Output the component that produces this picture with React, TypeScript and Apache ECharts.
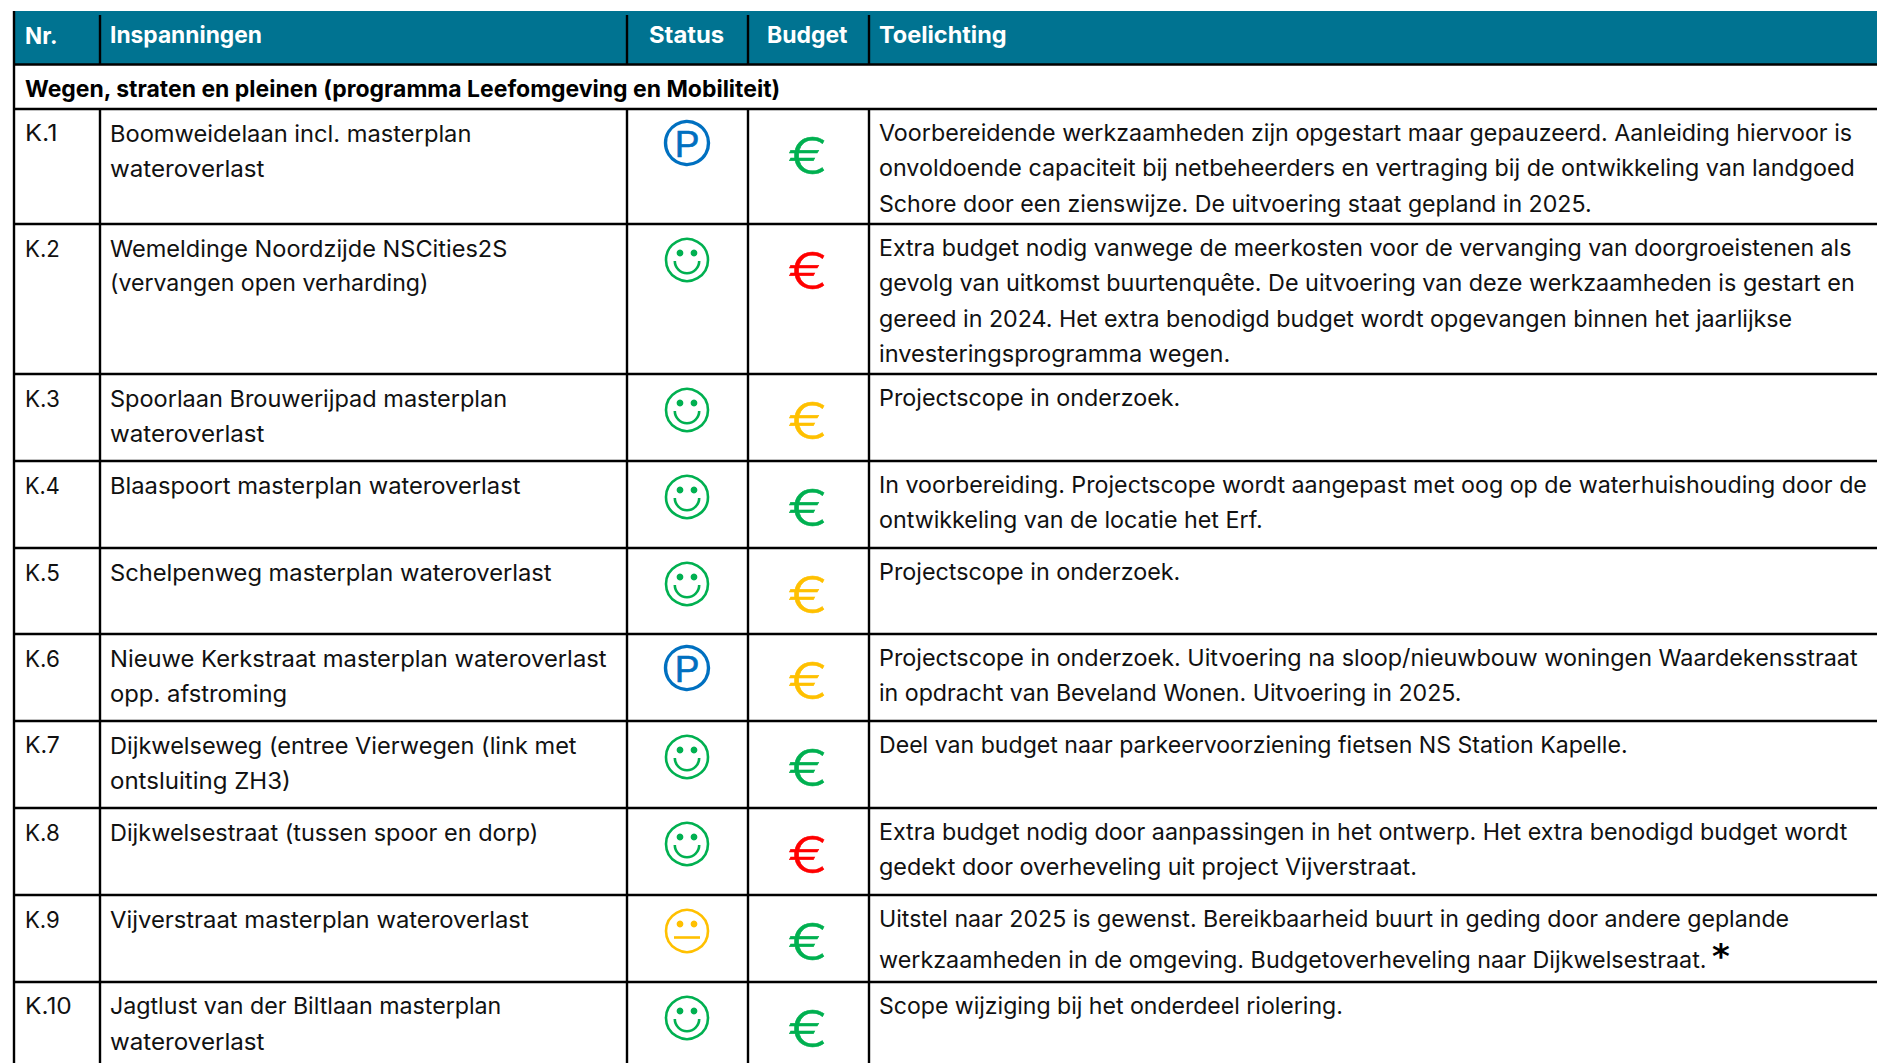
import React, { useEffect, useRef } from "react";
import * as echarts from "echarts";

const columns = ["Nr.", "Inspanningen", "Status", "Budget", "Toelichting"];
const groupTitle = "Wegen, straten en pleinen (programma Leefomgeving en Mobiliteit)";
const numbers = ["K.1", "K.2", "K.3", "K.4", "K.5", "K.6", "K.7", "K.8", "K.9", "K.10"];
const names = [
  ["Boomweidelaan incl. masterplan", "wateroverlast"],
  ["Wemeldinge Noordzijde NSCities2S", "(vervangen open verharding)"],
  ["Spoorlaan Brouwerijpad masterplan", "wateroverlast"],
  ["Blaaspoort masterplan wateroverlast"],
  ["Schelpenweg masterplan wateroverlast"],
  ["Nieuwe Kerkstraat masterplan wateroverlast", "opp. afstroming"],
  ["Dijkwelseweg (entree Vierwegen (link met", "ontsluiting ZH3)"],
  ["Dijkwelsestraat (tussen spoor en dorp)"],
  ["Vijverstraat masterplan wateroverlast"],
  ["Jagtlust van der Biltlaan masterplan", "wateroverlast"],
];
const statuses = ["P", "happy", "happy", "happy", "happy", "P", "happy", "happy", "neutral", "happy"];
const budgets = ["green", "red", "orange", "green", "orange", "orange", "green", "red", "green", "green"];
const notes = [
  ["Voorbereidende werkzaamheden zijn opgestart maar gepauzeerd. Aanleiding hiervoor is", "onvoldoende capaciteit bij netbeheerders en vertraging bij de ontwikkeling van landgoed", "Schore door een zienswijze. De uitvoering staat gepland in 2025."],
  ["Extra budget nodig vanwege de meerkosten voor de vervanging van doorgroeistenen als", "gevolg van uitkomst buurtenquête. De uitvoering van deze werkzaamheden is gestart en", "gereed in 2024. Het extra benodigd budget wordt opgevangen binnen het jaarlijkse", "investeringsprogramma wegen."],
  ["Projectscope in onderzoek."],
  ["In voorbereiding. Projectscope wordt aangepast met oog op de waterhuishouding door de", "ontwikkeling van de locatie het Erf."],
  ["Projectscope in onderzoek."],
  ["Projectscope in onderzoek. Uitvoering na sloop/nieuwbouw woningen Waardekensstraat", "in opdracht van Beveland Wonen. Uitvoering in 2025."],
  ["Deel van budget naar parkeervoorziening fietsen NS Station Kapelle."],
  ["Extra budget nodig door aanpassingen in het ontwerp. Het extra benodigd budget wordt", "gedekt door overheveling uit project Vijverstraat."],
  ["Uitstel naar 2025 is gewenst. Bereikbaarheid buurt in geding door andere geplande", "werkzaamheden in de omgeving. Budgetoverheveling naar Dijkwelsestraat."],
  ["Scope wijziging bij het onderdeel riolering."],
];
// Layout: right ends of each text line, in full-size page pixels
const SHRINK = 1877 / 1568;
const headerEnds = [48, 219, 605, 708, 841].map((v) => v * SHRINK);
const numberEnds = [48, 50, 50, 50, 50, 50, 50, 50, 50, 60].map((v) => v * SHRINK);
const nameEnds = [[394, 221], [424, 358], [424, 221], [435], [461], [507, 240], [482, 243], [450], [442], [419, 221]].map((r) => r.map((v) => v * SHRINK));
const noteEnds = [[1548, 1550, 1330], [1547, 1550, 1498, 1028], [986], [1560, 1055], [986], [1552, 1221], [1360], [1544, 1184], [1495, 1426], [1122]].map((r) => r.map((v) => v * SHRINK));

const FONT = "Inter";
const GREEN = "#00B050", RED = "#FF0000", ORANGE = "#FFC000", BLUE = "#0070C0";
const budgetColor: Record<string, string> = { green: GREEN, red: RED, orange: ORANGE };
const colX = [14, 100, 627, 748, 869, 1877];
const rowY = [109, 224, 374, 461, 548, 634, 721, 808, 895, 982, 1063];
const TEXT_SIZE = 23;

const measureCtx = document.createElement("canvas").getContext("2d")!;
function fit(text: string, x: number, end: number, font: string) {
  measureCtx.font = font;
  return (end - x) / measureCtx.measureText(text).width;
}
function line(x1: number, y1: number, x2: number, y2: number, w = 2.4, c = "#000") {
  return { type: "line", shape: { x1, y1, x2, y2 }, style: { stroke: c, lineWidth: w }, silent: true };
}
function txt(text: string, x: number, y: number, end?: number, size = TEXT_SIZE, weight: any = 400, fill = "#111") {
  const font = `${weight} ${size}px ${FONT}`;
  const sx = end ? fit(text, x, end, font) : 1;
  return {
    type: "text", x, y, scaleX: sx, originX: 0, originY: 0,
    style: { text, x: 0, y: 0, fill, font, textVerticalAlign: "middle", verticalAlign: "middle", textAlign: "left" },
  };
}
function face(cx: number, cy: number, color: string, mood: string) {
  const els: any[] = [
    { type: "circle", shape: { cx, cy, r: 21 }, style: { fill: "none", stroke: color, lineWidth: 2.6 } },
    { type: "circle", shape: { cx: cx - 7, cy: cy - 7, r: 3.4 }, style: { fill: color } },
    { type: "circle", shape: { cx: cx + 7, cy: cy - 7, r: 3.4 }, style: { fill: color } },
  ];
  if (mood === "happy") {
    els.push({ type: "arc", shape: { cx, cy: cy + 1, r: 12.2, startAngle: 0, endAngle: Math.PI }, style: { fill: "none", stroke: color, lineWidth: 2.6 } });
  } else {
    els.push(line(cx - 13, cy + 6.5, cx + 13, cy + 6.5, 2.6, color));
  }
  return els;
}
function buildGraphics() {
  const g: any[] = [];
  g.push({ type: "rect", shape: { x: 14, y: 11, width: 1863, height: 54 }, style: { fill: "#007391" } });
  const headerX = [25, 110, 649, 767, 879];
  columns.forEach((c, i) => g.push(txt(c, headerX[i], 35, headerEnds[i], 23, 700, "#fff")));
  g.push(txt(groupTitle, 25, 89, 653 * SHRINK, 23, 700, "#000"));
  numbers.forEach((n, i) => {
    const y = rowY[i];
    g.push(txt(n, 25, y + 24.2, numberEnds[i]));
    names[i].forEach((t, k) => g.push(txt(t, 110, y + 24.2 + k * 35.3, nameEnds[i][k])));
    notes[i].forEach((t, k) => g.push(txt(t, 879, y + 24.2 + k * (i === 8 ? 40.7 : 35.3), noteEnds[i][k])));
    const st = statuses[i];
    if (st === "P") {
      const cy = y + 34;
      g.push({ type: "circle", shape: { cx: 687, cy, r: 21.5 }, style: { fill: "none", stroke: BLUE, lineWidth: 3.4 } });
      g.push({ type: "text", x: 687, y: cy + 1, style: { text: "P", fill: BLUE, stroke: BLUE, lineWidth: 0.6, font: "400 37px 'Liberation Sans'", textAlign: "center", verticalAlign: "middle", textVerticalAlign: "middle" } });
    } else {
      g.push(...face(687, y + 36, st === "happy" ? GREEN : ORANGE, st));
    }
    const color = budgetColor[budgets[i]];
    g.push({ type: "text", x: 808, y: y + 47, scaleX: 1.2, style: { text: "€", fill: color, stroke: color, lineWidth: 0.5, font: "300 50px Inter", textAlign: "center", verticalAlign: "middle", textVerticalAlign: "middle" } });
  });
  g.push({ type: "text", x: 1721, y: 956, style: { text: "*", fill: "#000", font: "700 34px 'DejaVu Sans'", textAlign: "center", verticalAlign: "middle", textVerticalAlign: "middle" } });
  rowY.slice(0, -1).forEach((y) => g.push(line(14, y, 1877, y)));
  g.push(line(14, 64.5, 1877, 64.5));
  colX.slice(1, 5).forEach((x) => {
    g.push(line(x, 15, x, 64));
    g.push(line(x, 109, x, 1063));
  });
  g.push(line(14, 11, 14, 1063, 2.4));
  return g;
}

export default function App() {
  const ref = useRef<HTMLDivElement>(null);
  useEffect(() => {
    document.body.style.margin = "0";
    const chart = echarts.init(ref.current!, undefined, { renderer: "svg" });
    chart.setOption({ animation: false, backgroundColor: "#fff", graphic: { elements: buildGraphics() } });
    return () => chart.dispose();
  }, []);
  return <div ref={ref} style={{ width: 1877, height: 1063 }} />;
}
